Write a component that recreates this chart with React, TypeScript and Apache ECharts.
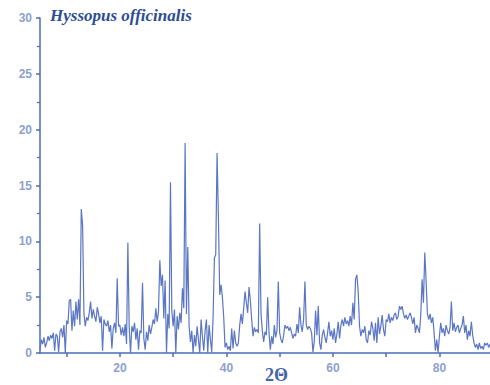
import React, { useEffect, useRef } from "react";
import * as echarts from "echarts";

const title = "Hyssopus officinalis";
const xAxisName = "2Θ";
const startAngle = 5;
const angleStep = 0.25;
const xTickValues = [10, 20, 30, 40, 50, 60, 70, 80];
const xLabelValues = [20, 40, 60, 80];

// intensity read every 0.25 degrees from 5.0 to 89.5
const intensity = [
  0.3, 1.2, 0.8, 1.4,
  0.5, 0.9, 1.5, 1.1,
  1.6, 1.3, 1.8, 0.2,
  1.7, 1.5, 0.1, 1.9,
  2.2, 1.4, 2.5, 0.0,
  2.9, 2.6, 4.7, 4.8,
  2.0, 3.8, 2.4, 4.6,
  3.0, 4.8, 2.5, 12.9,
  11.4, 3.5, 2.4, 3.2,
  2.9, 3.6, 4.6, 3.1,
  3.9, 3.3, 2.8, 4.1,
  3.5, 2.7, 3.3, 0.2,
  3.0, 2.6, 2.4, 2.9,
  1.9, 2.5, 0.4, 2.2,
  2.7, 1.8, 6.7, 2.4,
  2.5, 1.6, 2.3, 1.5,
  2.6, 0.8, 9.9, 2.3,
  0.0, 2.4, 1.9, 2.7,
  1.2, 2.2, 0.3, 2.0,
  1.8, 6.3, 1.3, 0.3,
  1.9, 1.1, 2.5, 1.7,
  2.3, 3.0, 2.6, 4.0,
  2.8, 3.7, 8.3, 6.0,
  7.0, 3.1, 6.5, 0.0,
  3.5, 2.2, 15.3, 3.8,
  2.4, 3.9, 0.0, 3.3,
  2.1, 3.6, 2.7, 5.8,
  4.0, 18.8, 3.5, 9.5,
  2.4, 1.0, 2.0, 0.0,
  1.6, 0.6, 2.4, 1.2,
  0.0, 3.0, 1.5, 0.2,
  2.0, 3.0, 0.0, 2.5,
  1.2, 0.1, 3.2, 8.5,
  8.8, 17.9, 12.2, 5.2,
  6.1, 5.0, 3.2, 0.5,
  0.9, 0.3, 0.6, 0.2,
  2.2, 0.4, 2.0, 0.9,
  0.6, 0.9, 2.5, 3.5,
  2.6, 4.0, 5.5, 4.5,
  3.6, 5.9, 4.7, 3.0,
  1.5, 2.3, 1.9, 2.1,
  1.8, 11.6, 3.5, 2.0,
  1.0, 1.9, 1.6, 5.0,
  1.8, 0.3, 1.5, 0.8,
  2.5, 1.4, 2.0, 6.4,
  1.8, 1.2, 0.9, 1.6,
  2.5, 2.2, 2.4, 2.0,
  2.3, 1.8, 1.3, 1.7,
  1.5, 2.6, 1.8, 4.1,
  2.5, 1.9, 3.0, 6.4,
  2.5, 2.1, 2.4, 2.2,
  1.8, 0.1, 1.0, 3.8,
  1.6, 4.2, 0.9, 0.3,
  1.6, 2.1, 1.4, 0.9,
  1.8, 2.8, 1.5, 2.0,
  1.2, 2.2, 0.9, 1.7,
  2.8, 1.3, 2.5, 3.0,
  2.4, 3.2, 2.6, 2.9,
  2.4, 3.3, 2.5, 4.5,
  3.0, 6.6, 7.0, 5.5,
  2.4, 1.5, 2.1, 1.8,
  2.4, 1.2, 0.9, 2.0,
  1.6, 2.8, 2.2, 1.1,
  2.7, 0.9, 3.2, 1.7,
  2.4, 3.4, 2.1, 1.5,
  3.0, 2.8, 3.5, 2.7,
  3.2, 2.9, 3.4, 3.6,
  3.0, 3.3, 4.2, 3.9,
  4.2, 3.5, 3.1, 3.4,
  3.0, 3.3, 3.6, 3.2,
  2.6, 3.2, 1.8, 2.5,
  2.2, 1.8, 3.4, 6.6,
  4.5, 9.0, 6.5, 3.5,
  3.0, 3.5, 2.7, 3.2,
  1.8, 0.2, 1.2, 0.0,
  1.5, 2.7, 1.8, 2.2,
  1.5, 2.5, 2.0, 1.7,
  2.3, 4.6, 2.0, 2.7,
  1.9, 2.3, 2.5, 1.8,
  2.2, 2.5, 3.3, 1.8,
  2.5, 1.2, 2.0, 1.5,
  2.8, 1.6, 0.9, 0.5,
  0.8, 0.3, 0.9, 0.4,
  0.6, 0.3, 0.9, 0.7,
  0.9, 0.5, 0.8,
];

export default function App() {
  const ref = useRef<HTMLDivElement>(null);
  useEffect(() => {
    document.body.style.margin = "0";
    if (!ref.current) return;
    const chart = echarts.init(ref.current, null, { renderer: "svg" });
    const data = intensity.map((v, i) => [startAngle + i * angleStep, v]);
    const axisColor = "#4a6cb8";
    const labelColor = "#8d9fcf";
    chart.setOption({
      animation: false,
      backgroundColor: "#ffffff",
      grid: { left: 40, right: 0, top: 18, bottom: 32, containLabel: false },
      xAxis: {
        type: "value",
        min: 5,
        max: 89.5,
        axisLine: { show: true, lineStyle: { color: axisColor, width: 1.5 } },
        axisTick: {
          show: true,
          customValues: xTickValues,
          length: 4,
          lineStyle: { color: axisColor, width: 1.5 },
        },
        axisLabel: {
          customValues: xLabelValues,
          color: labelColor,
          fontSize: 12,
          fontWeight: "bold",
          fontFamily: "Liberation Sans, Arial, sans-serif",
          margin: 9,
        },
        splitLine: { show: false },
      },
      yAxis: {
        type: "value",
        min: 0,
        max: 30,
        interval: 5,
        axisLine: { show: true, lineStyle: { color: axisColor, width: 1.5 } },
        axisTick: { show: true, length: 4, lineStyle: { color: axisColor, width: 1.5 } },
        minorTick: { show: true, splitNumber: 2, length: 3, lineStyle: { color: axisColor, width: 1.2 } },
        axisLabel: {
          color: labelColor,
          fontSize: 12,
          fontWeight: "bold",
          fontFamily: "Liberation Sans, Arial, sans-serif",
          margin: 8,
        },
        splitLine: { show: false },
      },
      series: [
        {
          type: "line",
          data,
          showSymbol: false,
          symbol: "none",
          lineStyle: { color: "#5a76c4", width: 1.2 },
        },
      ],
      graphic: [
        {
          type: "text",
          left: 50,
          top: 7,
          style: {
            text: title,
            fill: "#2c4c94",
            font: "italic bold 17px 'Liberation Serif', 'DejaVu Serif', serif",
          },
        },
        {
          type: "text",
          left: 265,
          top: 366,
          style: {
            text: xAxisName,
            fill: "#4565aa",
            font: "bold 18px 'Liberation Serif', 'DejaVu Serif', serif",
          },
        },
      ],
    });
    return () => chart.dispose();
  }, []);
  return <div ref={ref} style={{ width: 490, height: 385 }} />;
}
